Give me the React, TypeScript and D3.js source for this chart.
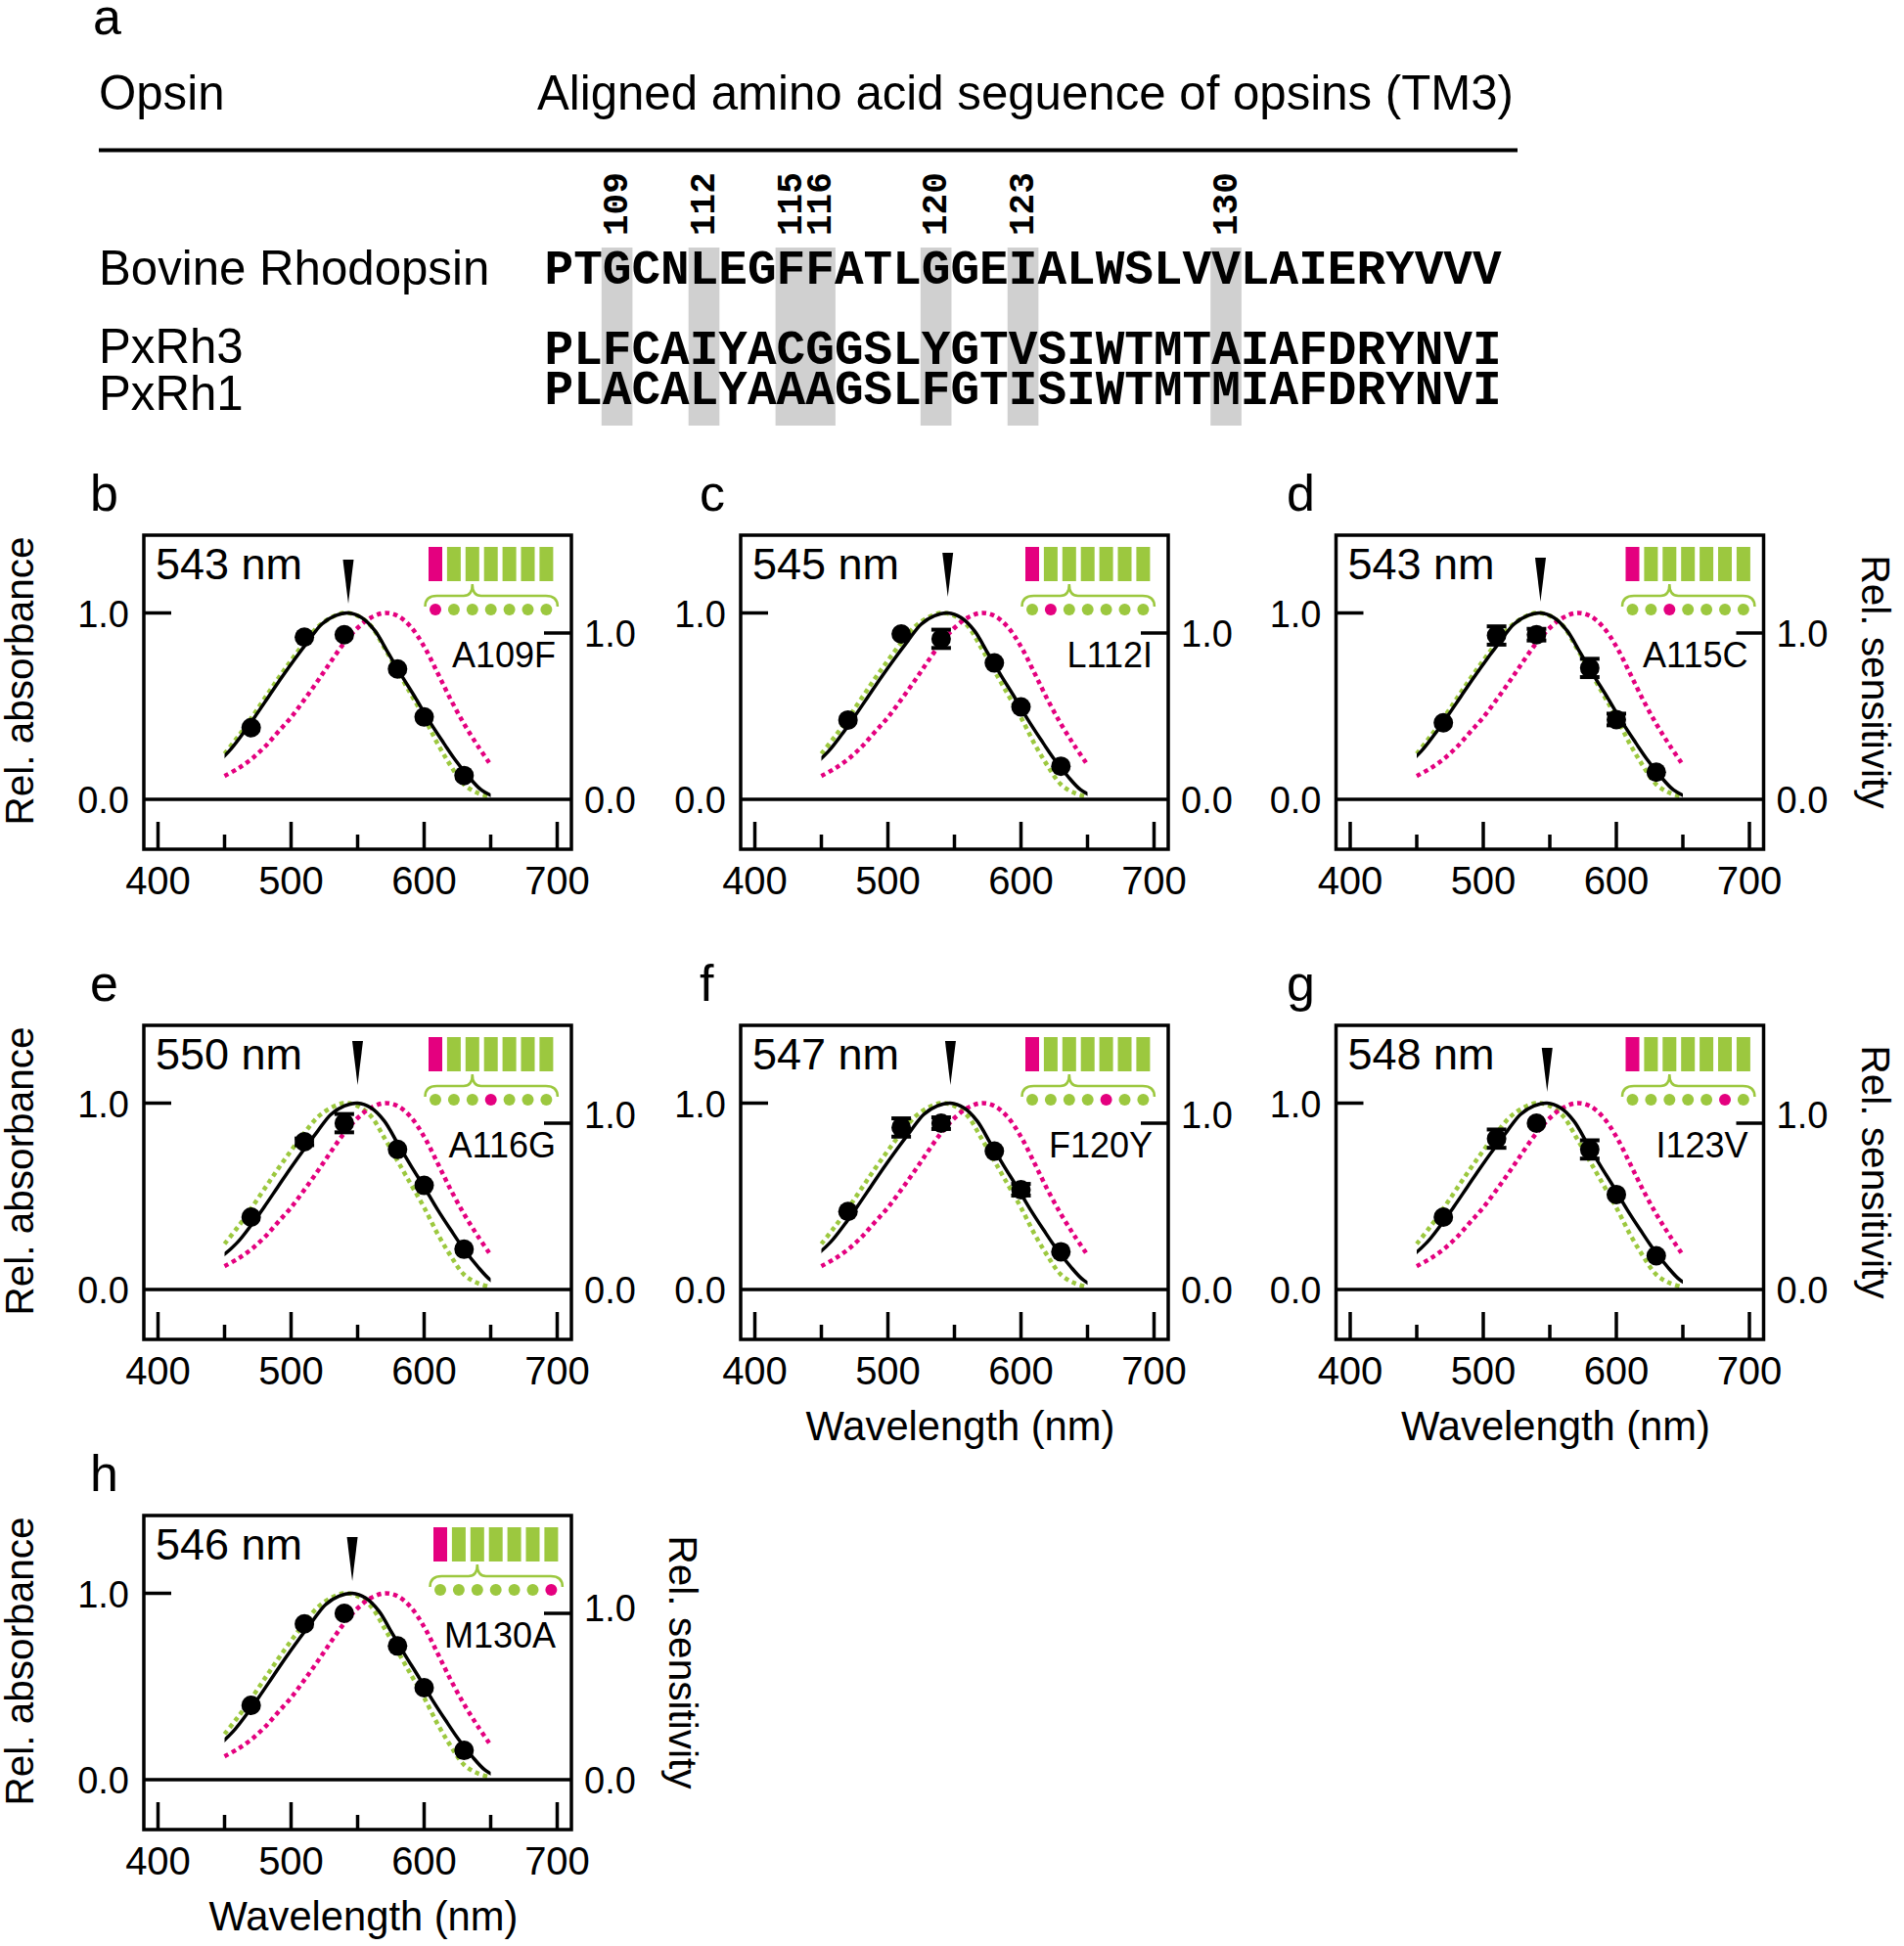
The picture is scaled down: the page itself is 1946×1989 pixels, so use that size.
import React from 'react';
import * as d3 from 'd3';

// ---------- Panel a: alignment ----------
const SEQ_LABELS = ['Bovine Rhodopsin', 'PxRh3', 'PxRh1'];
const SEQUENCES = [
  'PTGCNLEGFFATLGGEIALWSLVVLAIERYVVV',
  'PLFCAIYACGGSLYGTVSIWTMTAIAFDRYNVI',
  'PLACALYAAAGSLFGTISIWTMTMIAFDRYNVI',
];
const SEQ_START = 107;
const HIGHLIGHT_SITES = [109, 112, 115, 116, 120, 123, 130];

// ---------- Panels b-h ----------
const PANEL_LETTERS = ['b', 'c', 'd', 'e', 'f', 'g', 'h'];
const MUTANTS = ['A109F', 'L112I', 'A115C', 'A116G', 'F120Y', 'I123V', 'M130A'];
const LAMBDA_MAX = [543, 545, 543, 550, 547, 548, 546];
const MUTATED_DOT = [0, 1, 2, 3, 4, 5, 6];

// measured spectral sensitivity points (right axis)
const POINT_WL = [470, 510, 540, 580, 600, 630];
const SENS_A109F = [0.431, 0.975, 0.99, 0.784, 0.495, 0.143];
const SENS_L112I = [0.477, 0.994, 0.965, 0.82, 0.556, 0.199];
const SENS_A115C = [0.46, 0.985, 0.99, 0.79, 0.48, 0.163];
const SENS_A116G = [0.435, 0.888, 1.0, 0.842, 0.626, 0.242];
const SENS_F120Y = [0.469, 0.974, 1.0, 0.832, 0.6, 0.227];
const SENS_I123V = [0.435, 0.907, 1.0, 0.842, 0.571, 0.203];
const SENS_M130A = [0.447, 0.937, 1.0, 0.804, 0.553, 0.176];
const SENS = [SENS_A109F, SENS_L112I, SENS_A115C, SENS_A116G, SENS_F120Y, SENS_I123V, SENS_M130A];

const ERR_A109F = [0, 0, 0, 0, 0, 0];
const ERR_L112I = [0, 0, 0.055, 0, 0, 0];
const ERR_A115C = [0, 0.055, 0.035, 0.055, 0.035, 0];
const ERR_A116G = [0, 0.02, 0.055, 0, 0, 0];
const ERR_F120Y = [0, 0.055, 0.035, 0, 0.035, 0];
const ERR_I123V = [0, 0.055, 0, 0.055, 0, 0];
const ERR_M130A = [0, 0, 0, 0, 0, 0];
const ERRS = [ERR_A109F, ERR_L112I, ERR_A115C, ERR_A116G, ERR_F120Y, ERR_I123V, ERR_M130A];

// reference absorbance curves
const REF_WL = [450, 460, 470, 480, 490, 500, 510, 520, 530, 540, 550, 560, 570, 580, 590, 600, 610, 620, 630, 640, 650];
const PXRH1_ABS = [0.245, 0.335, 0.435, 0.54, 0.645, 0.745, 0.84, 0.925, 0.975, 1.0, 0.985, 0.93, 0.815, 0.69, 0.565, 0.44, 0.3, 0.18, 0.08, 0.035, 0.012];
const PXRH3_ABS = [0.125, 0.165, 0.215, 0.28, 0.36, 0.44, 0.535, 0.635, 0.74, 0.84, 0.92, 0.975, 1.0, 0.985, 0.925, 0.82, 0.68, 0.535, 0.405, 0.29, 0.185];

// fitted mutant absorbance shape, as offsets (nm) from lambda max
const FIT_OFFSET = [-110, -100, -90, -80, -70, -60, -50, -40, -30, -20, -10, 0, 10, 20, 30, 40, 50, 60, 70, 80, 90, 100, 110];
const FIT_VALUE = [0.15, 0.19, 0.255, 0.345, 0.445, 0.55, 0.655, 0.755, 0.85, 0.94, 0.985, 1.0, 0.975, 0.905, 0.785, 0.665, 0.55, 0.43, 0.32, 0.215, 0.125, 0.05, 0.012];

const X_TICKS = [400, 450, 500, 550, 600, 650, 700];
const X_TICK_LABELS = ['400', '500', '600', '700'];

// ---------- layout ----------
const COL_X = [147, 757, 1365.5];
const ROW_Y = [547, 1048, 1549];
const LETTER_X = [92, 715, 1315];
const FRAME_W = 437;
const FRAME_H = 321;
const ARROW_TOP = [25, 18, 23, 16, 16, 23, 22];
const LEGEND_DX = [291, 291, 296, 291, 291, 296, 296];
const RLABEL_DY = [0, -9, -6];

const MAGENTA = '#e4007f';
const GREEN = '#9cc83f';
const SANS = "'Liberation Sans', Arial, Helvetica, sans-serif";
const MONO = "'Liberation Mono', 'Courier New', monospace";

function Panel({ i }: { i: number }) {
  const row = Math.floor(i / 3);
  const col = i % 3;
  const L = COL_X[col];
  const T = ROW_Y[row];
  const R = L + FRAME_W;
  const B = T + FRAME_H;
  const x = d3.scaleLinear().domain([400, 700]).range([L + 14.5, L + 422.5]);
  const yL = d3.scaleLinear().domain([0, 1]).range([T + 270, T + 79.5]);
  const yR = d3.scaleLinear().domain([0, 1]).range([T + 270, T + 100]);
  const lm = LAMBDA_MAX[i];

  const line = d3
    .line<[number, number]>()
    .x((d) => x(d[0]))
    .y((d) => yL(d[1]))
    .curve(d3.curveCatmullRom.alpha(0.5));

  const fitPts: [number, number][] = FIT_OFFSET.map((o, k) => [lm + o, FIT_VALUE[k]]);
  const g1: [number, number][] = REF_WL.map((w, k) => [w, PXRH1_ABS[k]]);
  const g3: [number, number][] = REF_WL.map((w, k) => [w, PXRH3_ABS[k]]);

  const pitch = 18.9;
  const barW = 14;
  const bx0 = L + LEGEND_DX[i];
  const centers = d3.range(7).map((k) => bx0 + k * pitch + barW / 2);
  const x0 = centers[0] - 10.5;
  const x1 = centers[6] + 11.5;
  const cx = centers[2];
  const yEnd = T + 73;
  const yH = T + 62;
  const yC = T + 50;
  const brace = `M${x0},${yEnd} Q${x0},${yH} ${x0 + 12},${yH} L${cx - 9},${yH} Q${cx},${yH} ${cx},${yC} Q${cx},${yH} ${cx + 9},${yH} L${x1 - 12},${yH} Q${x1},${yH} ${x1},${yEnd}`;

  const arrowX = x(lm);
  const aT = T + ARROW_TOP[i];
  const clipId = `clip-${i}`;

  return (
    <g>
      <defs>
        <clipPath id={clipId}>
          <rect x={x(450)} y={T} width={x(650) - x(450)} height={FRAME_H} />
        </clipPath>
      </defs>
      <text x={LETTER_X[col]} y={T - 25} fontSize={52} fontFamily={SANS}>
        {PANEL_LETTERS[i]}
      </text>
      {/* curves */}
      <path d={line(g1) || ''} fill="none" stroke={GREEN} strokeWidth={4.5} strokeDasharray="4.5 4" />
      <path d={line(g3) || ''} fill="none" stroke={MAGENTA} strokeWidth={4.5} strokeDasharray="4.5 4" />
      <path d={line(fitPts) || ''} fill="none" stroke="#000" strokeWidth={3.5} clipPath={`url(#${clipId})`} />
      {/* points */}
      {POINT_WL.map((w, k) => {
        const v = SENS[i][k];
        const e = ERRS[i][k];
        const px = x(w);
        const py = yR(v);
        return (
          <g key={k}>
            {e > 0 && (
              <g stroke="#000" strokeWidth={4}>
                <line x1={px} x2={px} y1={yR(v - e)} y2={yR(v + e)} />
                <line x1={px - 10} x2={px + 10} y1={yR(v - e)} y2={yR(v - e)} />
                <line x1={px - 10} x2={px + 10} y1={yR(v + e)} y2={yR(v + e)} />
              </g>
            )}
            <circle cx={px} cy={py} r={10} fill="#000" />
          </g>
        );
      })}
      {/* frame */}
      <rect x={L} y={T} width={FRAME_W} height={FRAME_H} fill="none" stroke="#000" strokeWidth={3.5} />
      <line x1={L} x2={R} y1={yL(0)} y2={yL(0)} stroke="#000" strokeWidth={3.5} />
      <line x1={L} x2={L + 28} y1={yL(1)} y2={yL(1)} stroke="#000" strokeWidth={3.5} />
      <line x1={R - 28} x2={R} y1={yR(1)} y2={yR(1)} stroke="#000" strokeWidth={3.5} />
      {X_TICKS.map((t) => (
        <line
          key={t}
          x1={x(t)}
          x2={x(t)}
          y1={B}
          y2={t % 100 === 0 ? B - 28 : B - 15}
          stroke="#000"
          strokeWidth={3.5}
        />
      ))}
      {X_TICK_LABELS.map((t) => (
        <text key={t} x={x(+t)} y={T + 367} fontSize={40} textAnchor="middle" fontFamily={SANS}>
          {t}
        </text>
      ))}
      <text x={L - 15} y={yL(1) + 14} fontSize={38} textAnchor="end" fontFamily={SANS}>1.0</text>
      <text x={L - 15} y={yL(0) + 14} fontSize={38} textAnchor="end" fontFamily={SANS}>0.0</text>
      <text x={R + 13} y={yR(1) + 14 + RLABEL_DY[row]} fontSize={38} fontFamily={SANS}>1.0</text>
      <text x={R + 13} y={yL(0) + 14} fontSize={38} fontFamily={SANS}>0.0</text>
      {/* arrow */}
      <path d={`M${arrowX - 5.5},${aT} L${arrowX + 5.5},${aT} L${arrowX},${aT + 45} Z`} fill="#000" />
      {/* annotations */}
      <text x={L + 12} y={T + 45} fontSize={45} fontFamily={SANS}>{`${lm} nm`}</text>
      <text x={R - 16} y={T + 135} fontSize={36} textAnchor="end" fontFamily={SANS}>
        {MUTANTS[i]}
      </text>
      {/* legend */}
      {d3.range(7).map((k) => (
        <rect key={k} x={bx0 + k * pitch} y={T + 12} width={barW} height={35} fill={k === 0 ? MAGENTA : GREEN} />
      ))}
      <path d={brace} fill="none" stroke={GREEN} strokeWidth={2.5} />
      {centers.map((c, k) => (
        <circle key={k} cx={c} cy={T + 76} r={6} fill={k === MUTATED_DOT[i] ? MAGENTA : GREEN} />
      ))}
      {/* axis titles */}
      {col === 0 && (
        <text
          transform={`translate(34,${T + 149}) rotate(-90)`}
          fontSize={40.5}
          textAnchor="middle"
          fontFamily={SANS}
        >
          Rel. absorbance
        </text>
      )}
      {(col === 2 || i === 6) && (
        <text
          transform={`translate(${R + 100},${T + 150}) rotate(90)`}
          fontSize={40.5}
          textAnchor="middle"
          fontFamily={SANS}
        >
          Rel. sensitivity
        </text>
      )}
      {i >= 4 && (
        <text x={x(550) + 6} y={T + 424} fontSize={41.7} textAnchor="middle" fontFamily={SANS}>
          Wavelength (nm)
        </text>
      )}
    </g>
  );
}

function Alignment() {
  const seqX0 = 556.5;
  const pitch = 29.64;
  const seqBaselines = [290, 372, 413];
  const labelBaselines = [291, 371, 419];
  return (
    <g>
      <text x={95} y={35} fontSize={52} fontFamily={SANS}>a</text>
      <text x={101} y={112} fontSize={49.2} fontFamily={SANS}>Opsin</text>
      <text x={549} y={112} fontSize={49.2} fontFamily={SANS}>
        Aligned amino acid seguence of opsins (TM3)
      </text>
      <line x1={101} x2={1551} y1={153.5} y2={153.5} stroke="#000" strokeWidth={4} />
      {HIGHLIGHT_SITES.map((s) => {
        const idx = s - SEQ_START;
        return (
          <rect key={s} x={seqX0 + idx * pitch - 1} y={253} width={pitch + 2} height={182} fill="#d0d0d0" />
        );
      })}
      {HIGHLIGHT_SITES.map((s) => {
        const idx = s - SEQ_START;
        const cxc = seqX0 + (idx + 0.5) * pitch;
        return (
          <text
            key={`n${s}`}
            transform={`translate(${cxc + 10.5},241) rotate(-90)`}
            fontSize={36}
            fontWeight="bold"
            fontFamily={MONO}
          >
            {String(s)}
          </text>
        );
      })}
      {SEQ_LABELS.map((lab, r) => (
        <text key={lab} x={101} y={labelBaselines[r]} fontSize={49.2} fontFamily={SANS}>
          {lab}
        </text>
      ))}
      {SEQUENCES.map((seq, r) => (
        <g key={r}>
          {seq.split('').map((ch, k) => (
            <text
              key={k}
              x={seqX0 + (k + 0.5) * pitch}
              y={seqBaselines[r]}
              fontSize={49.4}
              fontWeight="bold"
              textAnchor="middle"
              fontFamily={MONO}
            >
              {ch}
            </text>
          ))}
        </g>
      ))}
    </g>
  );
}

export default function App() {
  return (
    <svg
      width={1946}
      height={1989}
      style={{ position: 'absolute', left: 0, top: 0, background: '#fff' }}
      xmlns="http://www.w3.org/2000/svg"
    >
      <rect x={0} y={0} width={1946} height={1989} fill="#fff" />
      <Alignment />
      {PANEL_LETTERS.map((_, i) => (
        <Panel key={i} i={i} />
      ))}
    </svg>
  );
}
